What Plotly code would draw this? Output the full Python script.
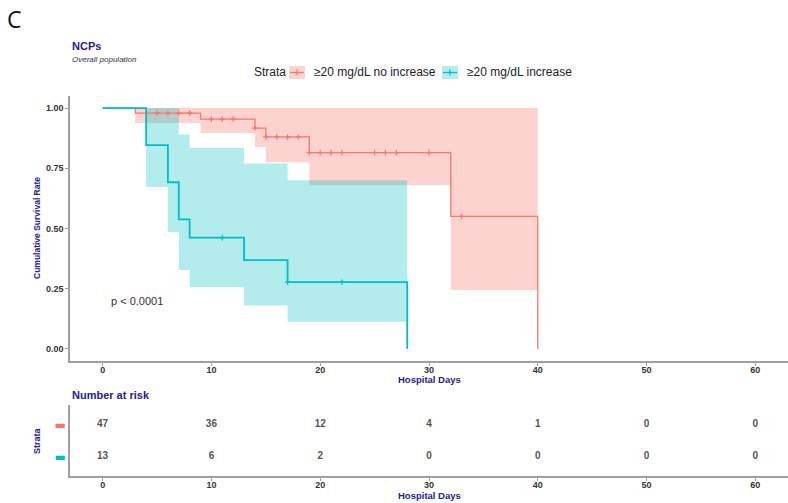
import plotly.graph_objects as go

# ---------------- data ----------------
tick_days = [0, 10, 20, 30, 40, 50, 60]

# Strata 1: >=20 mg/dL no increase
red_time = [0, 3, 9, 14, 15, 19, 32, 40]
red_surv = [1.0, 0.979, 0.954, 0.917, 0.880, 0.815, 0.550, 0.0]
red_band_time = [3, 9, 14, 15, 19, 32, 40]
red_lower = [0.938, 0.896, 0.838, 0.775, 0.680, 0.245]
red_upper = [1.0, 1.0, 1.0, 1.0, 1.0, 1.0]
red_censor = [5, 6, 7, 8, 10, 11, 12, 14, 15, 16, 17, 18, 19, 20, 21, 22, 25, 26, 27, 30, 33]
red_risk = [47, 36, 12, 4, 1, 0, 0]

# Strata 2: >=20 mg/dL increase
teal_time = [0, 4, 6, 7, 8, 13, 17, 28]
teal_surv = [1.0, 0.846, 0.692, 0.538, 0.462, 0.369, 0.277, 0.0]
teal_band_time = [4, 6, 7, 8, 13, 17, 28]
teal_lower = [0.672, 0.485, 0.328, 0.257, 0.180, 0.113]
teal_upper = [1.0, 1.0, 0.890, 0.834, 0.770, 0.700]
teal_censor = [11, 17, 22]
teal_risk = [13, 6, 2, 0, 0, 0, 0]

strata_names = ["≥20 mg/dL no increase", "≥20 mg/dL increase"]
p_text = "p < 0.0001"

RED = "#F8766D"
TEAL = "#00BFC4"
RED_FILL = "rgba(248,118,109,0.32)"
TEAL_FILL = "rgba(0,191,196,0.30)"
NAVY = "#22228f"
AXIS = "#a0a0a0"
FONT = "Liberation Sans"


def step_value(times, surv, t):
    v = surv[0]
    for ti, si in zip(times, surv):
        if ti <= t:
            v = si
    return v


fig = go.Figure()

# confidence bands
for bt, lo, up, fc in [(red_band_time, red_lower, red_upper, RED_FILL),
                       (teal_band_time, teal_lower, teal_upper, TEAL_FILL)]:
    fig.add_trace(go.Scatter(x=bt, y=lo + [lo[-1]], mode="lines", line=dict(width=0, shape="hv"),
                             showlegend=False, hoverinfo="skip"))
    fig.add_trace(go.Scatter(x=bt, y=up + [up[-1]], mode="lines", line=dict(width=0, shape="hv"),
                             fill="tonexty", fillcolor=fc, showlegend=False, hoverinfo="skip"))

# survival curves
fig.add_trace(go.Scatter(x=red_time, y=red_surv, mode="lines", line=dict(color=RED, width=1.3, shape="hv"),
                         showlegend=False))
fig.add_trace(go.Scatter(x=teal_time, y=teal_surv, mode="lines", line=dict(color=TEAL, width=1.8, shape="hv"),
                         showlegend=False))

# censor marks
for cen, tm, sv, col in [(red_censor, red_time, red_surv, RED), (teal_censor, teal_time, teal_surv, TEAL)]:
    fig.add_trace(go.Scatter(x=cen, y=[step_value(tm, sv, c) for c in cen], mode="markers",
                             marker=dict(symbol="cross-thin", size=4, line=dict(color=col, width=1.2)),
                             showlegend=False))

# p-value
fig.add_annotation(x=0.6, y=0.2, xref="x", yref="y", text=p_text, showarrow=False, xanchor="left",
                   font=dict(family=FONT, size=11, color="#333333"))

# risk table
for yv, risk in [(2, red_risk), (1, teal_risk)]:
    fig.add_trace(go.Scatter(x=tick_days, y=[yv] * len(tick_days), mode="text", text=[str(r) for r in risk],
                             textfont=dict(family=FONT, size=10, color="#555555", weight="bold"),
                             xaxis="x2", yaxis="y2", showlegend=False, cliponaxis=False))

axis_common = dict(showgrid=False, zeroline=False, showline=True, linecolor=AXIS, linewidth=1.5,
                   ticks="outside", ticklen=3, tickcolor=AXIS, automargin=False,
                   tickfont=dict(family=FONT, size=9, color="#333333", weight="bold"))

fig.update_layout(
    width=788, height=503, margin=dict(l=0, r=0, t=0, b=0, autoexpand=False),
    paper_bgcolor="white", plot_bgcolor="white", showlegend=False,
    xaxis=dict(domain=[70 / 788, 1], range=[-3, 63], tickvals=tick_days, ticklabelstandoff=-4, **axis_common),
    yaxis=dict(domain=[1 - 361 / 503, 1 - 96 / 503], range=[-0.05, 1.05], tickvals=[0, 0.25, 0.5, 0.75, 1.0],
               tickformat=".2f", **axis_common),
    xaxis2=dict(domain=[70 / 788, 1], range=[-3, 63], tickvals=tick_days, anchor="y2", ticklabelstandoff=-4,
                **axis_common),
    yaxis2=dict(domain=[1 - 476 / 503, 1 - 405 / 503], range=[0.4, 2.6], tickvals=[1, 2], anchor="x2",
                ticktext=[f"<span style='color:{TEAL}'>▬</span>", f"<span style='color:{RED}'>▬</span>"],
                **{**axis_common, "ticks": "", "tickfont": dict(family="DejaVu Sans", size=12)}),
)

# titles / labels
def ann(x, y, text, size, color=NAVY, bold=True, italic=False, anchor="left", angle=0, family=FONT):
    fig.add_annotation(x=x / 788, y=1 - y / 503, xref="paper", yref="paper", text=text, showarrow=False,
                       xanchor=anchor, yanchor="middle", textangle=angle,
                       font=dict(family=family, size=size, color=color, weight="bold" if bold else "normal",
                                 style="italic" if italic else "normal"))

ann(5, 19, "C", 23, color="#111111", bold=False, family="Open Sans")
ann(70, 46, "NCPs", 11)
ann(70, 60, "Overall population", 8, color="#333333", bold=False, italic=True)
ann(37, 228, "Cumulative Survival Rate", 8.5, anchor="center", angle=-90)
ann(429, 379, "Hospital Days", 9.5, anchor="center")
ann(70, 395, "Number at risk", 11)
ann(37, 441, "Strata", 9, anchor="center", angle=-90)
ann(429, 495, "Hospital Days", 9.5, anchor="center")

# legend (manual)
ann(252, 72, "Strata", 12, color="#222222", bold=False)
for x0, name, col, fc in [(289, strata_names[0], RED, RED_FILL), (442, strata_names[1], TEAL, TEAL_FILL)]:
    fig.add_shape(type="rect", xref="paper", yref="paper", x0=x0 / 788, x1=(x0 + 16) / 788,
                  y0=1 - 79 / 503, y1=1 - 66 / 503, fillcolor=fc, line=dict(width=0))
    fig.add_shape(type="line", xref="paper", yref="paper", x0=(x0 + 1) / 788, x1=(x0 + 15) / 788,
                  y0=1 - 72.5 / 503, y1=1 - 72.5 / 503, line=dict(color=col, width=1.3))
    fig.add_shape(type="line", xref="paper", yref="paper", x0=(x0 + 8) / 788, x1=(x0 + 8) / 788,
                  y0=1 - 75.5 / 503, y1=1 - 69.5 / 503, line=dict(color=col, width=1.3))
    ann(x0 + 23, 72, name, 12, color="#222222", bold=False)

fig.write_html("out.html", config={"displayModeBar": False},
               post_script="document.body.style.margin='0px';document.body.style.overflow='hidden';")
